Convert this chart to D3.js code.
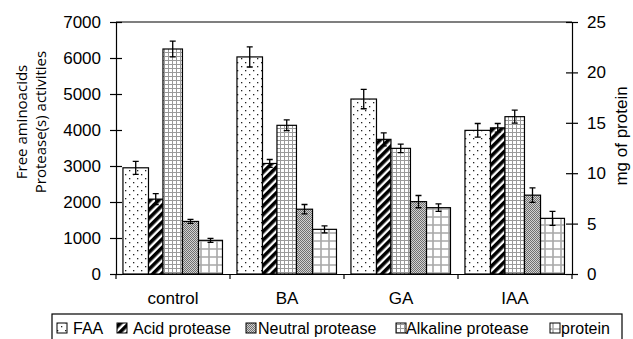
<!DOCTYPE html>
<html>
<head>
<meta charset="utf-8">
<script src="https://cdn.jsdelivr.net/npm/d3@7/dist/d3.min.js"></script>
<style>
  body { margin: 0; background: #fff; }
  svg { display: block; font-family: "Liberation Sans", Arial, sans-serif; }
</style>
</head>
<body>
<div id="chart"></div>
<script>
// data
const categories = ['control', 'BA', 'GA', 'IAA'];
const leftTicks = [0, 1000, 2000, 3000, 4000, 5000, 6000, 7000];
const rightTicks = [0, 5, 10, 15, 20, 25];

const faa = [2950, 6030, 4860, 3990];
const faaErr = [180, 280, 270, 190];
const acid = [2080, 3070, 3740, 4060];
const acidErr = [150, 110, 180, 120];
const alkaline = [6250, 4130, 3490, 4370];
const alkalineErr = [220, 150, 120, 180];
const neutral = [1460, 1800, 2010, 2190];
const neutralErr = [55, 130, 170, 200];
const protein = [3.34, 4.43, 6.58, 5.52];
const proteinErr = [0.2, 0.35, 0.37, 0.7];

const width = 633, height = 339;
const plot = { left: 116, right: 572, top: 22, bottom: 274 };
const font = '"Liberation Sans", Arial, sans-serif';

const svg = d3.select('#chart').append('svg')
  .attr('width', width)
  .attr('height', height);

// fill patterns
const defs = svg.append('defs');

const pFaa = defs.append('pattern').attr('id', 'pFaa')
  .attr('patternUnits', 'userSpaceOnUse').attr('width', 8).attr('height', 8);
pFaa.append('rect').attr('width', 8).attr('height', 8).attr('fill', '#fff');
pFaa.append('rect').attr('x', 1).attr('y', 2).attr('width', 1.3).attr('height', 1.3).attr('fill', '#222');
pFaa.append('rect').attr('x', 5).attr('y', 6).attr('width', 1.3).attr('height', 1.3).attr('fill', '#222');

const pAcid = defs.append('pattern').attr('id', 'pAcid')
  .attr('patternUnits', 'userSpaceOnUse').attr('width', 6).attr('height', 6)
  .attr('patternTransform', 'rotate(45)');
pAcid.append('rect').attr('width', 6).attr('height', 6).attr('fill', '#fff');
pAcid.append('rect').attr('width', 3.6).attr('height', 6).attr('fill', '#000');

const pAlk = defs.append('pattern').attr('id', 'pAlk')
  .attr('patternUnits', 'userSpaceOnUse').attr('width', 4).attr('height', 4);
pAlk.append('rect').attr('width', 4).attr('height', 4).attr('fill', '#fff');
pAlk.append('path').attr('d', 'M0.5,0V4M0,0.5H4').attr('stroke', '#9a9a9a').attr('stroke-width', 1);

const pNeut = defs.append('pattern').attr('id', 'pNeut')
  .attr('patternUnits', 'userSpaceOnUse').attr('width', 2).attr('height', 2);
pNeut.append('rect').attr('width', 2).attr('height', 2).attr('fill', '#d2d2d2');
pNeut.append('rect').attr('width', 1).attr('height', 1).attr('fill', '#707070');
pNeut.append('rect').attr('x', 1).attr('y', 1).attr('width', 1).attr('height', 1).attr('fill', '#707070');

const pProt = defs.append('pattern').attr('id', 'pProt')
  .attr('patternUnits', 'userSpaceOnUse').attr('width', 8).attr('height', 8);
pProt.append('rect').attr('width', 8).attr('height', 8).attr('fill', '#fff');
pProt.append('path').attr('d', 'M1,0V8M0,1H8').attr('stroke', '#a8a8a8').attr('stroke-width', 1.6);

// scales
const x = d3.scaleBand().domain(categories).range([plot.left, plot.right]).padding(0);
const yL = d3.scaleLinear().domain([0, 7000]).range([plot.bottom, plot.top]);
const yR = d3.scaleLinear().domain([0, 25]).range([plot.bottom, plot.top]);

// series, left to right inside a group; span = part of the category band
const series = [
  { label: 'FAA', values: faa, errors: faaErr, fill: 'url(#pFaa)', y: yL, span: [0.061, 0.285] },
  { label: 'Acid protease', values: acid, errors: acidErr, fill: 'url(#pAcid)', y: yL, span: [0.285, 0.412] },
  { label: 'Alkaline protease', values: alkaline, errors: alkalineErr, fill: 'url(#pAlk)', y: yL, span: [0.412, 0.583] },
  { label: 'Neutral protease', values: neutral, errors: neutralErr, fill: 'url(#pNeut)', y: yL, span: [0.583, 0.724] },
  { label: 'protein', values: protein, errors: proteinErr, fill: 'url(#pProt)', y: yR, span: [0.724, 0.934] }
];

const inner = d3.scaleLinear().domain([0, 1]).range([0, x.bandwidth()]);

// bars
series.forEach(s => {
  svg.append('g')
    .selectAll('rect')
    .data(categories)
    .join('rect')
    .attr('x', d => x(d) + inner(s.span[0]))
    .attr('width', inner(s.span[1]) - inner(s.span[0]))
    .attr('y', (d, i) => s.y(s.values[i]))
    .attr('height', (d, i) => s.y(0) - s.y(s.values[i]))
    .attr('fill', s.fill)
    .attr('stroke', '#000')
    .attr('stroke-width', 1.2);
});

// error bars
series.forEach(s => {
  const g = svg.append('g').attr('stroke', '#000').attr('stroke-width', 1.3).attr('fill', 'none');
  categories.forEach((c, i) => {
    const cx = x(c) + (inner(s.span[0]) + inner(s.span[1])) / 2;
    const hi = s.y(s.values[i] + s.errors[i]);
    const lo = s.y(s.values[i] - s.errors[i]);
    g.append('path').attr('d', `M${cx},${hi}V${lo}M${cx - 3},${hi}H${cx + 3}M${cx - 3},${lo}H${cx + 3}`);
  });
});

// top border of the plot area
svg.append('line')
  .attr('x1', plot.left).attr('x2', plot.right)
  .attr('y1', plot.top).attr('y2', plot.top)
  .attr('stroke', '#000').attr('stroke-width', 1.2);

// left axis
const leftAxis = svg.append('g')
  .attr('transform', `translate(${plot.left},0)`)
  .call(d3.axisLeft(yL).tickValues(leftTicks).tickFormat(d3.format('d'))
    .tickSize(6).tickSizeOuter(0).tickPadding(9));
leftAxis.attr('font-family', font).attr('font-size', 17);
leftAxis.selectAll('.tick line').attr('x1', 6);
leftAxis.selectAll('text').attr('fill', '#000');
leftAxis.selectAll('path, line').attr('stroke', '#000').attr('stroke-width', 1.2);

// right axis
const rightAxis = svg.append('g')
  .attr('transform', `translate(${plot.right},0)`)
  .call(d3.axisRight(yR).tickValues(rightTicks).tickFormat(d3.format('d'))
    .tickSize(6).tickSizeOuter(0).tickPadding(9));
rightAxis.attr('font-family', font).attr('font-size', 17);
rightAxis.selectAll('.tick line').attr('x1', -6);
rightAxis.selectAll('text').attr('fill', '#000');
rightAxis.selectAll('path, line').attr('stroke', '#000').attr('stroke-width', 1.2);

// bottom axis: labels at centres, ticks at category boundaries
const bottomAxis = svg.append('g')
  .attr('transform', `translate(0,${plot.bottom})`)
  .call(d3.axisBottom(x).tickSize(0).tickPadding(18));
bottomAxis.attr('font-family', font).attr('font-size', 17);
bottomAxis.select('.domain').attr('stroke', '#000').attr('stroke-width', 1.2);
bottomAxis.selectAll('text').attr('fill', '#000');

const bounds = categories.map(c => x(c)).concat([x.range()[1]]);
svg.append('g')
  .selectAll('line')
  .data(bounds)
  .join('line')
  .attr('x1', d => d).attr('x2', d => d)
  .attr('y1', plot.bottom).attr('y2', plot.bottom + 5)
  .attr('stroke', '#000').attr('stroke-width', 1.2);

// axis titles
const leftTitle = svg.append('text')
  .attr('transform', 'translate(27,122) rotate(-90)')
  .attr('text-anchor', 'middle')
  .attr('font-family', '"Open Sans", sans-serif')
  .attr('font-size', 15)
  .attr('fill', '#000');
leftTitle.append('tspan').attr('x', 0).attr('y', 0).text('Free aminoacids');
leftTitle.append('tspan').attr('x', 0).attr('y', 19).text('Protease(s) activities');

svg.append('text')
  .attr('transform', 'translate(627,136) rotate(-90)')
  .attr('text-anchor', 'middle')
  .attr('font-size', 17)
  .attr('fill', '#000')
  .text('mg of protein');

// legend
const legendOrder = ['FAA', 'Acid protease', 'Neutral protease', 'Alkaline protease', 'protein'];
const legendIconX = [57, 117, 246, 396, 550];
const legendTextX = [73, 133, 258, 406, 561];

svg.append('rect')
  .attr('x', 52).attr('y', 314)
  .attr('width', 570).attr('height', 40)
  .attr('fill', '#fff').attr('stroke', '#000').attr('stroke-width', 1.2);

const legend = svg.append('g');
legendOrder.forEach((name, i) => {
  const s = series.find(d => d.label === name);
  legend.append('rect')
    .attr('x', legendIconX[i]).attr('y', 323)
    .attr('width', 10).attr('height', 10)
    .attr('fill', s.fill)
    .attr('stroke', '#000').attr('stroke-width', 1);
  legend.append('text')
    .attr('x', legendTextX[i]).attr('y', 334)
    .attr('font-size', 16)
    .attr('fill', '#000')
    .text(name);
});
</script>
</body>
</html>
